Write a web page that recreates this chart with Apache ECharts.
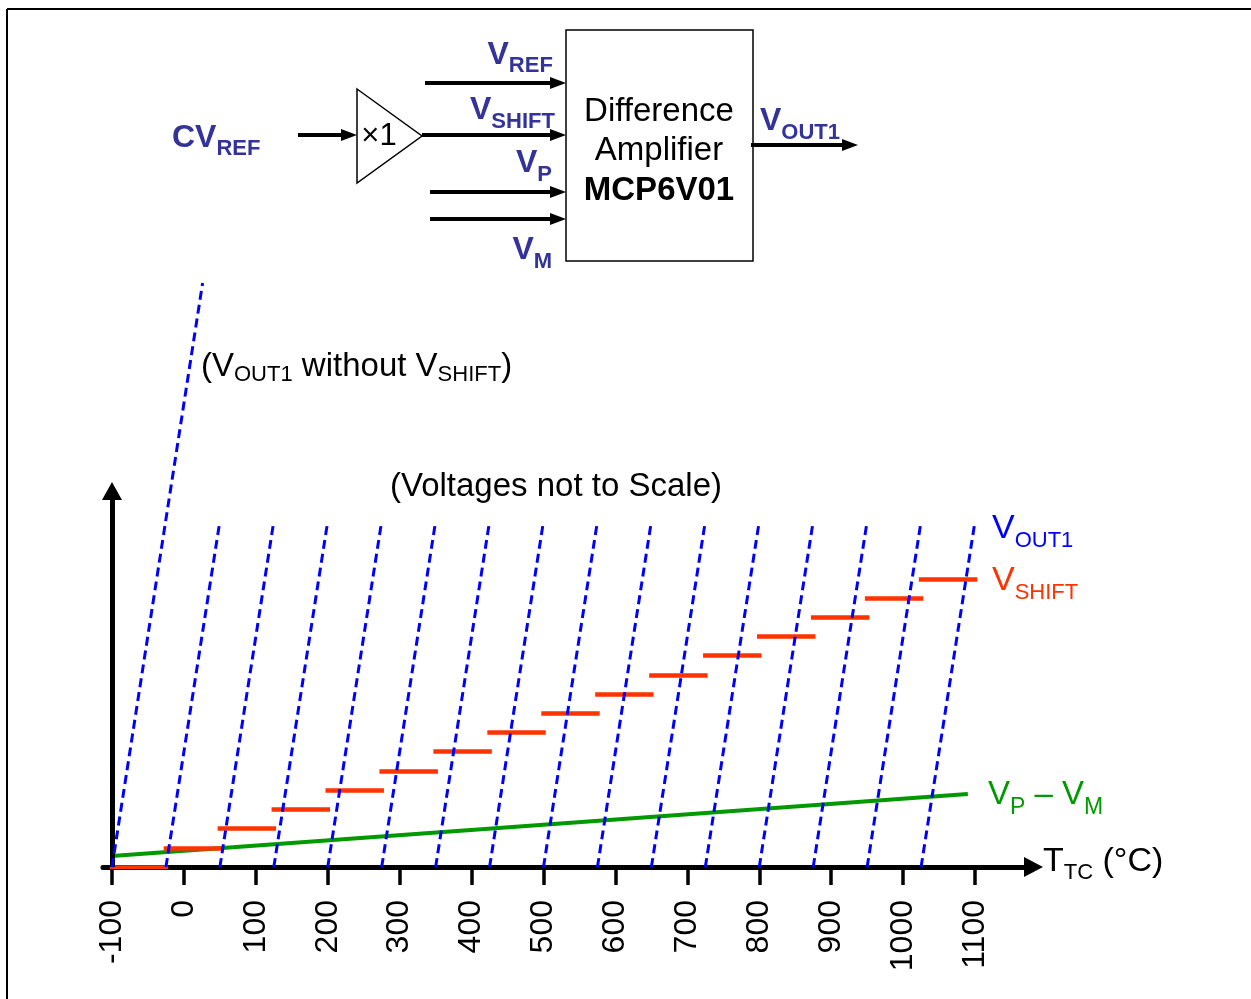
<!DOCTYPE html>
<html><head><meta charset="utf-8">
<script src="https://cdn.jsdelivr.net/npm/echarts@6/dist/echarts.min.js"></script>
<style>html,body{margin:0;padding:0;background:#fff}#c{width:1251px;height:999px}</style>
</head><body><div id="c"></div>
<script>
// ---------------- data ----------------
const tempTicks = [-100, 0, 100, 200, 300, 400, 500, 600, 700, 800, 900, 1000, 1100];
const tempTickLabels = ['-100', '0', '100', '200', '300', '400', '500', '600', '700', '800', '900', '1000', '1100'];
// V_SHIFT step edges (deg C) and step levels (arbitrary voltage units)
const shiftEdges = [-100, -25, 50, 125, 200, 275, 350, 425, 500, 575, 650, 725, 800, 875, 950, 1025, 1100];
const vShiftLevels = [0, 1, 2, 3, 4, 5, 6, 7, 8, 9, 10, 11, 12, 13, 14, 15];
// V_OUT1 ramps: start temperature (at 0), end temperature (at top)
const vOut1Start = [-25, 50, 125, 200, 275, 350, 425, 500, 575, 650, 725, 800, 875, 950, 1025];
const vOut1End   = [50, 125, 200, 275, 350, 425, 500, 575, 650, 725, 800, 875, 950, 1025, 1100];
const vOut1Top   = [18, 18, 18, 18, 18, 18, 18, 18, 18, 18, 18, 18, 18, 18, 18];
const vOut1NoShift = [[-100, 0], [26, 30.4]];
const vpMinusVm = [[-100, 0.57], [1090, 3.8]];
const yAxisTop = 19.57;

// ---------------- helpers ----------------
const FONT = "'Liberation Sans', Arial, Helvetica, sans-serif";
const NAVY = '#333399';
const BASEF = 0.30;
const measCtx = document.createElement('canvas').getContext('2d');

function subText(x, base, tokens, o) {
  const els = [];
  let cx = x;
  tokens.forEach(t => {
    const fs = t[1] ? o.fs : o.fm;
    const font = (o.bold ? 'bold ' : '') + fs + 'px ' + FONT;
    measCtx.font = font;
    const w = measCtx.measureText(t[0]).width;
    const b = base + (t[1] ? o.d : 0);
    els.push({ type: 'text', x: cx, y: b - BASEF * fs, silent: true,
      style: { text: t[0], font: font, fill: o.color, align: 'left', verticalAlign: 'middle' } });
    cx += w;
  });
  return els;
}
function plain(x, base, text, size, color, bold, align) {
  return { type: 'text', x: x, y: base - BASEF * size, silent: true,
    style: { text: text, fill: color, font: (bold ? 'bold ' : '') + size + 'px ' + FONT,
      align: align || 'center', verticalAlign: 'middle' } };
}
function arrow(x1, y, x2) {
  return [
    { type: 'line', silent: true, shape: { x1: x1, y1: y, x2: x2 - 14, y2: y }, style: { stroke: '#000', lineWidth: 4 } },
    { type: 'polygon', silent: true, shape: { points: [[x2 - 16, y - 6], [x2, y], [x2 - 16, y + 6]] }, style: { fill: '#000' } }
  ];
}

// ---------------- build ----------------
const redLines = [];
for (let i = 0; i < vShiftLevels.length; i++) {
  redLines.push({ coords: [[shiftEdges[i], vShiftLevels[i]], [shiftEdges[i + 1], vShiftLevels[i]]] });
}
const blueLines = [{ coords: vOut1NoShift }];
for (let i = 0; i < vOut1Start.length; i++) {
  blueLines.push({ coords: [[vOut1Start[i], 0], [vOut1End[i], vOut1Top[i]]] });
}

const graphics = [
  // frame
  { type: 'line', silent: true, shape: { x1: 7, y1: 9, x2: 1251, y2: 9 }, style: { stroke: '#000', lineWidth: 2 } },
  { type: 'line', silent: true, shape: { x1: 7, y1: 9, x2: 7, y2: 999 }, style: { stroke: '#000', lineWidth: 2 } },
  // block
  { type: 'rect', silent: true, shape: { x: 566, y: 30, width: 187, height: 231 }, style: { fill: '#fff', stroke: '#000', lineWidth: 1.5 } },
  { type: 'polygon', silent: true, shape: { points: [[357, 89], [422, 136], [357, 183]] }, style: { fill: '#fff', stroke: '#000', lineWidth: 1.5 } },
  plain(379, 146, '×1', 31, '#000', false),
  plain(659, 122, 'Difference', 33, '#000', false),
  plain(659, 161, 'Amplifier', 33, '#000', false),
  plain(659, 201, 'MCP6V01', 33, '#000', true),
  ...arrow(298, 135, 357),
  ...arrow(422, 135, 566),
  ...arrow(425, 83, 566),
  ...arrow(430, 192, 566),
  ...arrow(430, 219, 566),
  ...arrow(751, 145, 858),
  ...subText(172, 148, [['CV', 0], ['REF', 1]], { fm: 32, fs: 22, d: 8, bold: true, color: NAVY }),
  ...subText(487.5, 65, [['V', 0], ['REF', 1]], { fm: 32, fs: 22, d: 8, bold: true, color: NAVY }),
  ...subText(470, 120, [['V', 0], ['SHIFT', 1]], { fm: 32, fs: 22, d: 9, bold: true, color: NAVY }),
  ...subText(516, 173, [['V', 0], ['P', 1]], { fm: 32, fs: 22, d: 9, bold: true, color: NAVY }),
  ...subText(512.5, 260, [['V', 0], ['M', 1]], { fm: 32, fs: 22, d: 9, bold: true, color: NAVY }),
  ...subText(760, 131, [['V', 0], ['OUT1', 1]], { fm: 32, fs: 22, d: 9, bold: true, color: NAVY }),
  // chart annotations
  ...subText(201, 377, [['(V', 0], ['OUT1', 1], [' without V', 0], ['SHIFT', 1], [')', 0]], { fm: 33, fs: 22, d: 5, color: '#000' }),
  plain(556, 497, '(Voltages not to Scale)', 33, '#000', false),
  ...subText(992, 539, [['V', 0], ['OUT1', 1]], { fm: 34, fs: 22, d: 9, color: '#0000FF' }),
  ...subText(992, 591, [['V', 0], ['SHIFT', 1]], { fm: 34, fs: 22, d: 9, color: '#FF3300' }),
  ...subText(988, 805, [['V', 0], ['P', 1], [' – V', 0], ['M', 1]], { fm: 33, fs: 23, d: 10, color: '#009900' }),
  ...subText(1043, 872, [['T', 0], ['TC', 1], [' (°C)', 0]], { fm: 34, fs: 22, d: 8, color: '#000' })
];

const chart = echarts.init(document.getElementById('c'), null, { renderer: 'canvas' });
chart.setOption({
  animation: false,
  backgroundColor: '#fff',
  grid: { left: 103, right: 217.5, top: 283, bottom: 132, outerBoundsMode: 'none' },
  xAxis: {
    type: 'value', min: -112.5, max: 1181.3,
    axisLine: { show: true, onZero: false, symbol: ['none', 'triangle'], symbolSize: [20, 19],
      lineStyle: { color: '#000', width: 5 } },
    axisTick: { show: true, customValues: tempTicks, length: 18, lineStyle: { color: '#000', width: 3.5 } },
    axisLabel: { show: true, customValues: tempTicks, rotate: 90, margin: 33, fontSize: 32, color: '#000',
      fontFamily: FONT, formatter: function (v) { const i = tempTicks.indexOf(v); return i >= 0 ? tempTickLabels[i] : ''; } },
    splitLine: { show: false }
  },
  yAxis: { type: 'value', min: 0, max: 30.4, show: false, splitLine: { show: false } },
  series: [
    {
      name: 'VP-VM', type: 'line', data: vpMinusVm, symbol: 'none', silent: true, z: 3,
      lineStyle: { color: '#009900', width: 4 },
      markLine: {
        silent: true, animation: false, symbol: ['none', 'triangle'], symbolSize: [20, 18],
        label: { show: false }, lineStyle: { color: '#000', width: 5, type: 'solid' },
        data: [[{ coord: [-100, 0] }, { coord: [-100, yAxisTop] }]]
      }
    },
    {
      name: 'VSHIFT', type: 'lines', coordinateSystem: 'cartesian2d', silent: true, z: 4,
      lineStyle: { color: '#FF3300', width: 4.5, opacity: 1, cap: 'square' },
      data: redLines
    },
    {
      name: 'VOUT1', type: 'lines', coordinateSystem: 'cartesian2d', silent: true, z: 5,
      lineStyle: { color: '#0000FF', width: 3, opacity: 1, type: [9, 5] },
      data: blueLines
    }
  ],
  graphic: graphics
});
</script>
</body></html>
